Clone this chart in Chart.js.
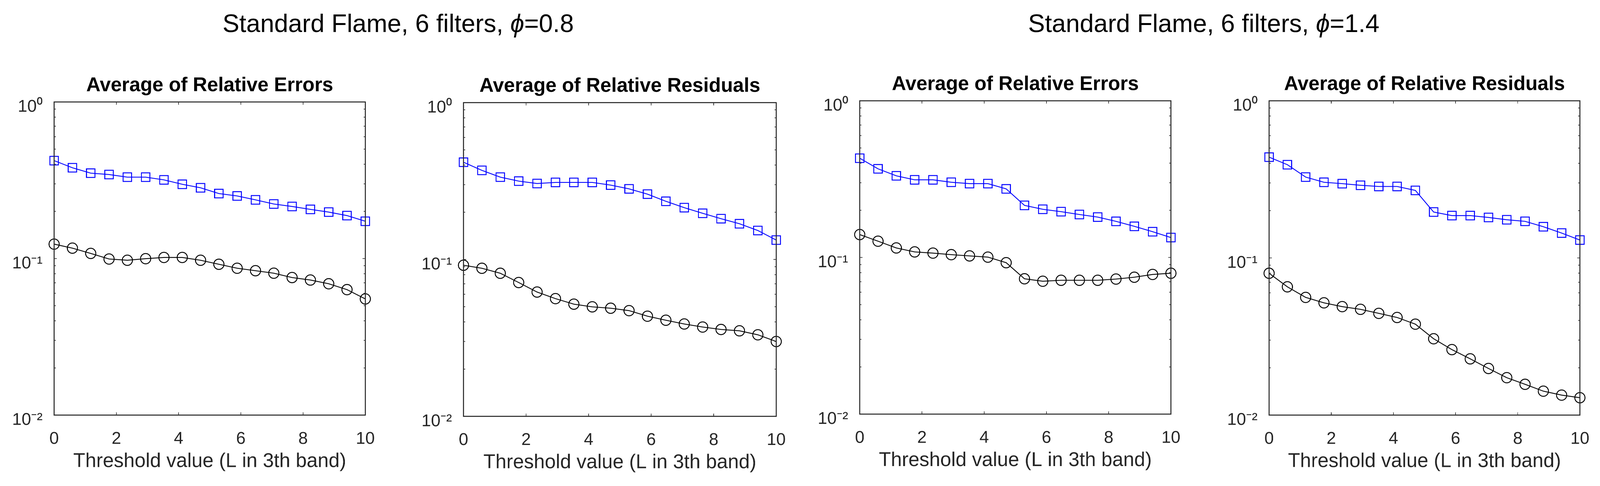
<!DOCTYPE html>
<html>
<head>
<meta charset="utf-8">
<script src="https://cdn.jsdelivr.net/npm/chart.js@4.4.1/dist/chart.umd.min.js"></script>
<style>
  html, body { margin: 0; padding: 0; background: #fff; overflow: hidden; }
  #page { position: absolute; left: 0; top: 0; width: 4139px; height: 1244px; overflow: hidden; transform-origin: 0 0; }
  .suptitle {
    position: absolute; top: 27px; width: 1400px; text-align: center;
    font-family: "Liberation Sans", Arial, Helvetica, sans-serif;
    font-size: 65px; line-height: 65px; color: #000; white-space: nowrap;
  }
  .panel { position: absolute; top: 0; height: 1244px; }
</style>
</head>
<body>
<div id="page">
  <div class="suptitle" id="sup1">Standard Flame, 6 filters, <i>ϕ</i>=0.8</div>
  <div class="suptitle" id="sup2">Standard Flame, 6 filters, <i>ϕ</i>=1.4</div>
  <div class="panel"><canvas id="c1"></canvas></div>
  <div class="panel"><canvas id="c2"></canvas></div>
  <div class="panel"><canvas id="c3"></canvas></div>
  <div class="panel"><canvas id="c4"></canvas></div>
</div>
<script>
// ----- data -----
const thresholds = [0, 0.588, 1.176, 1.765, 2.353, 2.941, 3.529, 4.118, 4.706,
                    5.294, 5.882, 6.471, 7.059, 7.647, 8.235, 8.824, 9.412, 10];

// phi = 0.8
const errors08Square = [0.422, 0.380, 0.351, 0.344, 0.331, 0.331, 0.318, 0.298, 0.283,
                        0.260, 0.251, 0.237, 0.223, 0.215, 0.206, 0.198, 0.188, 0.173];
const errors08Circle = [0.1236, 0.1165, 0.1078, 0.0993, 0.0975, 0.0998, 0.1016, 0.1016, 0.0975,
                        0.0919, 0.0867, 0.0836, 0.0806, 0.0756, 0.0729, 0.0690, 0.0633, 0.0552];
const resid08Square = [0.417, 0.370, 0.335, 0.316, 0.305, 0.310, 0.310, 0.310, 0.298,
                       0.282, 0.261, 0.235, 0.214, 0.197, 0.182, 0.169, 0.153, 0.133];
const resid08Circle = [0.0919, 0.0879, 0.0817, 0.0713, 0.0620, 0.0563, 0.0519, 0.0499, 0.0489,
                       0.0472, 0.0435, 0.0410, 0.0388, 0.0371, 0.0358, 0.0351, 0.0331, 0.0300];

// phi = 1.4
const errors14Square = [0.430, 0.368, 0.332, 0.313, 0.313, 0.302, 0.296, 0.296, 0.274,
                        0.215, 0.203, 0.196, 0.188, 0.181, 0.170, 0.158, 0.146, 0.134];
const errors14Circle = [0.140, 0.127, 0.115, 0.1085, 0.1066, 0.1042, 0.1023, 0.1005, 0.0926,
                        0.0731, 0.0705, 0.0715, 0.0715, 0.0715, 0.0728, 0.0748, 0.0779, 0.0793];
const resid14Square = [0.438, 0.392, 0.327, 0.303, 0.297, 0.290, 0.285, 0.285, 0.269,
                       0.196, 0.186, 0.186, 0.181, 0.175, 0.171, 0.158, 0.144, 0.130];
const resid14Circle = [0.0799, 0.0655, 0.0561, 0.0518, 0.0490, 0.0471, 0.0444, 0.0418, 0.0379,
                       0.0306, 0.0261, 0.0228, 0.0198, 0.0173, 0.0157, 0.0142, 0.0134, 0.0129];

// ticks
const xTickValues = [0, 2, 4, 6, 8, 10];
const yTickValues = [0.01, 0.02, 0.03, 0.04, 0.05, 0.06, 0.07, 0.08, 0.09,
                     0.1, 0.2, 0.3, 0.4, 0.5, 0.6, 0.7, 0.8, 0.9, 1];
const yMajorValues = [0.01, 0.1, 1];
const yMajorLabels = ['10⁻²', '10⁻¹', '10⁰'];
const xAxisLabel = 'Threshold value (L in 3th band)';

// ----- layout -----
const W = 4139, H = 1244;
const SIDE = 110;
const FONT = '"Liberation Sans", Arial, Helvetica, sans-serif';

// fit the 4139x1244 figure to whatever the viewport really is
const page = document.getElementById('page');
page.style.transform = `scale(${window.innerWidth / W}, ${window.innerHeight / H})`;

document.getElementById('sup1').style.left = (1030 - 700) + 'px';
document.getElementById('sup2').style.left = (3114 - 700) + 'px';

// plot box per panel: left, right, top, bottom (pixels)
const panels = [
  { id: 'c1', title: 'Average of Relative Errors',    sq: errors08Square, ci: errors08Circle, area: [140, 945, 261, 1062.5] },
  { id: 'c2', title: 'Average of Relative Residuals', sq: resid08Square,  ci: resid08Circle,  area: [1199, 2008, 262.7, 1065.7] },
  { id: 'c3', title: 'Average of Relative Errors',    sq: errors14Square, ci: errors14Circle, area: [2224, 3029, 258, 1060] },
  { id: 'c4', title: 'Average of Relative Residuals', sq: resid14Square,  ci: resid14Circle,  area: [3283, 4087, 258, 1062.5] }
];

const isDecade = v => yMajorValues.some(m => Math.abs(m - v) < 1e-9);

// MATLAB-like box with inward tick marks
const matlabBox = {
  id: 'matlabBox',
  afterDraw(chart) {
    const { ctx, chartArea: a, scales: { x, y } } = chart;
    ctx.save();
    ctx.strokeStyle = '#262626';
    ctx.lineWidth = 1.6;
    ctx.beginPath();
    xTickValues.forEach(v => {
      if (v <= x.min || v >= x.max) return;
      const px = x.getPixelForValue(v);
      ctx.moveTo(px, a.bottom); ctx.lineTo(px, a.bottom - 7);
      ctx.moveTo(px, a.top); ctx.lineTo(px, a.top + 7);
    });
    yTickValues.forEach(v => {
      const py = y.getPixelForValue(v);
      const len = isDecade(v) ? 7 : 4.5;
      ctx.moveTo(a.left, py); ctx.lineTo(a.left + len, py);
      ctx.moveTo(a.right, py); ctx.lineTo(a.right - len, py);
    });
    ctx.stroke();
    ctx.lineWidth = 2.6;
    ctx.strokeRect(a.left, a.top, a.right - a.left, a.bottom - a.top);
    ctx.restore();
  }
};

const toPoints = vals => thresholds.map((x, i) => ({ x, y: vals[i] }));

panels.forEach(p => {
  const [left, right, top, bottom] = p.area;
  const div = document.getElementById(p.id).parentNode;
  div.style.left = (left - SIDE) + 'px';
  div.style.width = (right - left + 2 * SIDE) + 'px';

  new Chart(document.getElementById(p.id), {
    type: 'line',
    data: {
      datasets: [
        {
          data: toPoints(p.sq),
          borderColor: '#0000ff', borderWidth: 2.2,
          pointStyle: 'rect', pointRadius: 15.5, pointBorderWidth: 2.4,
          pointBorderColor: '#0000ff', pointBackgroundColor: 'rgba(0,0,0,0)',
          tension: 0, clip: false
        },
        {
          data: toPoints(p.ci),
          borderColor: '#000000', borderWidth: 2.2,
          pointStyle: 'circle', pointRadius: 13.2, pointBorderWidth: 2.4,
          pointBorderColor: '#000000', pointBackgroundColor: 'rgba(0,0,0,0)',
          tension: 0, clip: false
        }
      ]
    },
    options: {
      responsive: true,
      maintainAspectRatio: false,
      animation: false,
      devicePixelRatio: 2,
      layout: { padding: 0 },
      plugins: {
        legend: { display: false },
        tooltip: { enabled: false },
        title: {
          display: true, text: p.title, color: '#000',
          font: { family: FONT, size: 51, weight: 'bold' },
          padding: { top: top - 72.3, bottom: 11.1 }
        }
      },
      scales: {
        x: {
          type: 'linear', min: 0, max: 10,
          grid: { display: false }, border: { display: false },
          afterBuildTicks: s => { s.ticks = xTickValues.map(v => ({ value: v })); },
          ticks: { color: '#262626', font: { family: FONT, size: 44 }, padding: 27, autoSkip: false, maxRotation: 0 },
          title: {
            display: true, text: xAxisLabel, color: '#262626',
            font: { family: FONT, size: 51 },
            padding: { top: 0, bottom: 1094.7 - bottom }
          },
          afterFit: s => { s.height = H - bottom; }
        },
        y: {
          type: 'logarithmic', position: 'left', min: 0.01, max: 1,
          grid: { display: false }, border: { display: false },
          afterBuildTicks: s => { s.ticks = yTickValues.map(v => ({ value: v, major: isDecade(v) })); },
          ticks: {
            color: '#262626', font: { family: FONT, size: 44 }, padding: 22,
            autoSkip: false, labelOffset: 13,
            callback: v => {
              const i = yMajorValues.findIndex(m => Math.abs(m - v) < 1e-9);
              return i >= 0 ? yMajorLabels[i] : '';
            }
          },
          afterFit: s => { s.width = SIDE; }
        },
        // empty right axis so the plot box sits centred under its title
        yRight: {
          type: 'logarithmic', position: 'right', min: 0.01, max: 1,
          grid: { display: false }, border: { display: false },
          ticks: { display: false },
          afterFit: s => { s.width = SIDE; }
        }
      }
    },
    plugins: [matlabBox]
  });
});
</script>
</body>
</html>
